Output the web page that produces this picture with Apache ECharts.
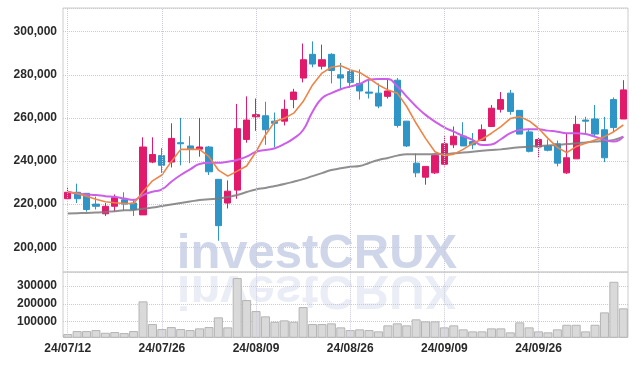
<!DOCTYPE html>
<html>
<head>
<meta charset="utf-8">
<script src="https://cdn.jsdelivr.net/npm/echarts@6/dist/echarts.min.js"></script>
<style>html,body{margin:0;padding:0;background:#fff;}#c{width:637px;height:366px;}</style>
</head>
<body>
<div id="c"></div>
<script>
const dates = ['24/07/12','24/07/15','24/07/16','24/07/17','24/07/18','24/07/19','24/07/22','24/07/23','24/07/24','24/07/25',
'24/07/26','24/07/29','24/07/30','24/07/31','24/08/01','24/08/02','24/08/05','24/08/06','24/08/07','24/08/08',
'24/08/09','24/08/12','24/08/13','24/08/14','24/08/16','24/08/19','24/08/20','24/08/21','24/08/22','24/08/23',
'24/08/26','24/08/27','24/08/28','24/08/29','24/08/30','24/09/02','24/09/03','24/09/04','24/09/05','24/09/06',
'24/09/09','24/09/10','24/09/11','24/09/12','24/09/13','24/09/19','24/09/20','24/09/23','24/09/24','24/09/25',
'24/09/26','24/09/27','24/09/30','24/10/02','24/10/04','24/10/07','24/10/08','24/10/10','24/10/11','24/10/14'];
const tickLabels = ['24/07/12','24/07/26','24/08/09','24/08/26','24/09/09','24/09/26'];
// [open, close, low, high]
const ohlc = [
[222500,225500,222500,228000],[225500,222500,220500,229500],[225000,217500,216500,225000],[220000,219000,217500,223500],
[215500,219000,214500,220500],[219000,223000,216500,224500],[222000,220000,217000,225500],[220500,217500,214500,222500],
[215000,246500,215000,251000],[239500,243000,239000,251000],[242500,238000,234500,246000],[239500,250500,237000,257500],
[248500,248000,238000,260000],[247000,245500,239000,251500],[245500,246500,242000,260000],[246500,235000,233500,247000],
[231500,210000,203000,231500],[220500,226000,218000,231000],[226500,255000,222500,266500],[250000,259000,248500,270000],
[260500,261500,254000,269000],[261000,254500,247500,267500],[258500,257500,246500,262500],[258500,264000,256500,268500],
[268500,272000,264500,273500],[278500,287000,276500,294500],[289500,285000,283500,295500],[284000,287000,282500,294000],
[289500,282000,276000,290000],[280000,278500,273500,285500],[281500,276500,274000,282500],[276000,272500,268500,282500],
[272000,271500,269000,278000],[271500,265500,264500,276000],[270000,272500,269000,278000],[277500,256500,255500,278500],
[258500,247000,246500,258500],[239000,234500,232500,243500],[232500,237500,229000,237500],[234500,242500,234000,242500],
[238500,248000,237500,251500],[247500,251500,246000,256000],[251500,247000,247000,258000],[249000,247500,245500,253000],
[249500,254500,249500,257000],[256000,264500,256000,266000],[264000,268500,262500,272000],[271500,263000,261500,273000],
[263500,252500,252500,263500],[253500,244500,244000,255000],[246500,250000,241500,251000],[247000,245000,244500,250000],
[248000,239000,237500,249500],[234500,241500,234000,253000],[241000,257000,241000,261000],[259000,258500,252500,260500],
[259500,252500,251000,266000],[254500,241500,239500,260500],[268500,255500,253500,269500],[259500,273000,259500,277500]];
const ma5 = [225700,224950,223700,222300,221100,220600,220300,220300,225700,230800,233500,239700,245400,245400,245400,242000,
235800,233000,235300,237700,244300,252100,258300,259800,262200,267600,275300,280800,283500,284200,282300,281100,278400,275300,
273000,271500,265300,257500,250500,244300,242500,243200,245400,248200,250100,252900,256000,259700,260600,258600,255200,250500,
246300,243900,246700,248200,249800,251300,253600,256700];
const ma20 = [225700,224950,224500,224200,223700,223400,222600,221900,224200,225700,226800,230400,233500,236100,238600,239200,
239200,239700,240500,242000,244300,245100,245900,247900,250500,254400,262900,269100,271500,273300,274600,275800,277700,278100,
278100,274600,269900,265300,261400,258300,255600,253600,251600,249800,247400,247700,250100,252900,254400,254700,254700,254100,
253600,252900,252900,252500,251300,249800,249000,251300];
const ma60 = [215700,215800,215900,216100,216400,216700,217100,217300,217800,218400,219100,219800,220500,221200,221900,222300,
222600,223300,224200,225600,226800,227500,228400,229300,230400,231600,233000,234400,235800,236600,237300,237700,239100,240500,
241400,242500,243100,243100,243100,243200,243200,243600,243900,244300,244800,245100,245400,245900,246400,246600,247000,247200,
247400,247900,248200,248600,249000,249300,249800,251300];
const volume = [28300,45300,45300,51000,35700,39700,34000,45300,213600,85000,56700,68000,56700,51000,60600,68000,123000,66300,
345600,221000,158600,128600,98000,106000,98000,181300,85000,85000,89000,66300,51000,55000,51000,43600,77600,89000,77600,111600,
100300,100300,66300,77600,55000,43600,43600,60600,60600,38000,94600,66300,43600,38000,55000,81000,81000,43600,81000,151300,
324600,174000];

const gridLineColor = '#c9c9dd';
const vLines = {
  silent: true, symbol: 'none', animation: false,
  label: { show: false },
  lineStyle: { type: 'dotted', color: gridLineColor, width: 1 },
  data: tickLabels.map(t => ({ xAxis: t }))
};
const labelFont = { fontFamily: 'Liberation Sans', fontWeight: 'bold', fontSize: 12, color: '#2a2a2a' };
const wmStyle = { text: 'investCRUX', font: 'bold 49px "Liberation Sans"', fill: '#d0d6ea', align: 'center', verticalAlign: 'middle' };

const chart = echarts.init(document.getElementById('c'), null, { renderer: 'canvas' });
chart.setOption({
  animation: false,
  backgroundColor: '#fff',
  graphic: [
    { type: 'text', z: -1, x: 317, y: 254.5, style: wmStyle },
    { type: 'text', z: -1, x: 317, y: 289.5, scaleY: -1, style: Object.assign({}, wmStyle, { opacity: 0.45 }) }
  ],
  grid: [
    { left: 63, right: 9, top: 8, height: 264, show: true, borderColor: '#cccccc', borderWidth: 1 },
    { left: 63, right: 9, top: 272, height: 65.3, show: true, borderColor: '#cccccc', borderWidth: 1 }
  ],
  xAxis: [
    { type: 'category', gridIndex: 0, data: dates, boundaryGap: true,
      axisLine: { show: false }, axisTick: { show: false }, axisLabel: { show: false }, splitLine: { show: false } },
    { type: 'category', gridIndex: 1, data: dates, boundaryGap: true,
      axisLine: { show: false }, axisTick: { show: false }, splitLine: { show: false },
      axisLabel: Object.assign({ margin: 5, interval: (i, v) => tickLabels.indexOf(v) >= 0 }, labelFont) }
  ],
  yAxis: [
    { type: 'value', gridIndex: 0, min: 188500, max: 311000, splitNumber: 6, scale: true,
      axisLine: { show: false }, axisTick: { show: false },
      axisLabel: Object.assign({ margin: 6, showMinLabel: false, showMaxLabel: false,
        formatter: v => v.toLocaleString('en-US') }, labelFont),
      splitLine: { lineStyle: { type: 'dotted', color: gridLineColor } } },
    { type: 'value', gridIndex: 1, min: 10000, max: 380000, splitNumber: 4,
      axisLine: { show: false }, axisTick: { show: false },
      axisLabel: Object.assign({ margin: 6, showMinLabel: false, showMaxLabel: false,
        formatter: v => String(v) }, labelFont),
      splitLine: { lineStyle: { type: 'dotted', color: gridLineColor } } }
  ],
  series: [
    { type: 'candlestick', xAxisIndex: 0, yAxisIndex: 0, data: ohlc, barWidth: '70%',
      itemStyle: { color: '#e21a6b', color0: '#2e95c6', borderColor: '#e21a6b', borderColor0: '#2e95c6', borderWidth: 1 },
      markLine: vLines },
    { type: 'line', xAxisIndex: 0, yAxisIndex: 0, data: ma60, symbol: 'none', smooth: true,
      lineStyle: { color: '#7b7b7b', width: 2, opacity: 0.85 } },
    { type: 'line', xAxisIndex: 0, yAxisIndex: 0, data: ma20, symbol: 'none', smooth: true,
      lineStyle: { color: '#cc5ee9', width: 2 } },
    { type: 'line', xAxisIndex: 0, yAxisIndex: 0, data: ma5, symbol: 'none', smooth: false,
      lineStyle: { color: '#ee8548', width: 1.6 } },
    { type: 'bar', xAxisIndex: 1, yAxisIndex: 1, data: volume, barCategoryGap: '4%',
      itemStyle: { color: '#d9d9d9', borderColor: '#b4b4b4', borderWidth: 1 },
      markLine: vLines }
  ]
});
</script>
</body>
</html>
